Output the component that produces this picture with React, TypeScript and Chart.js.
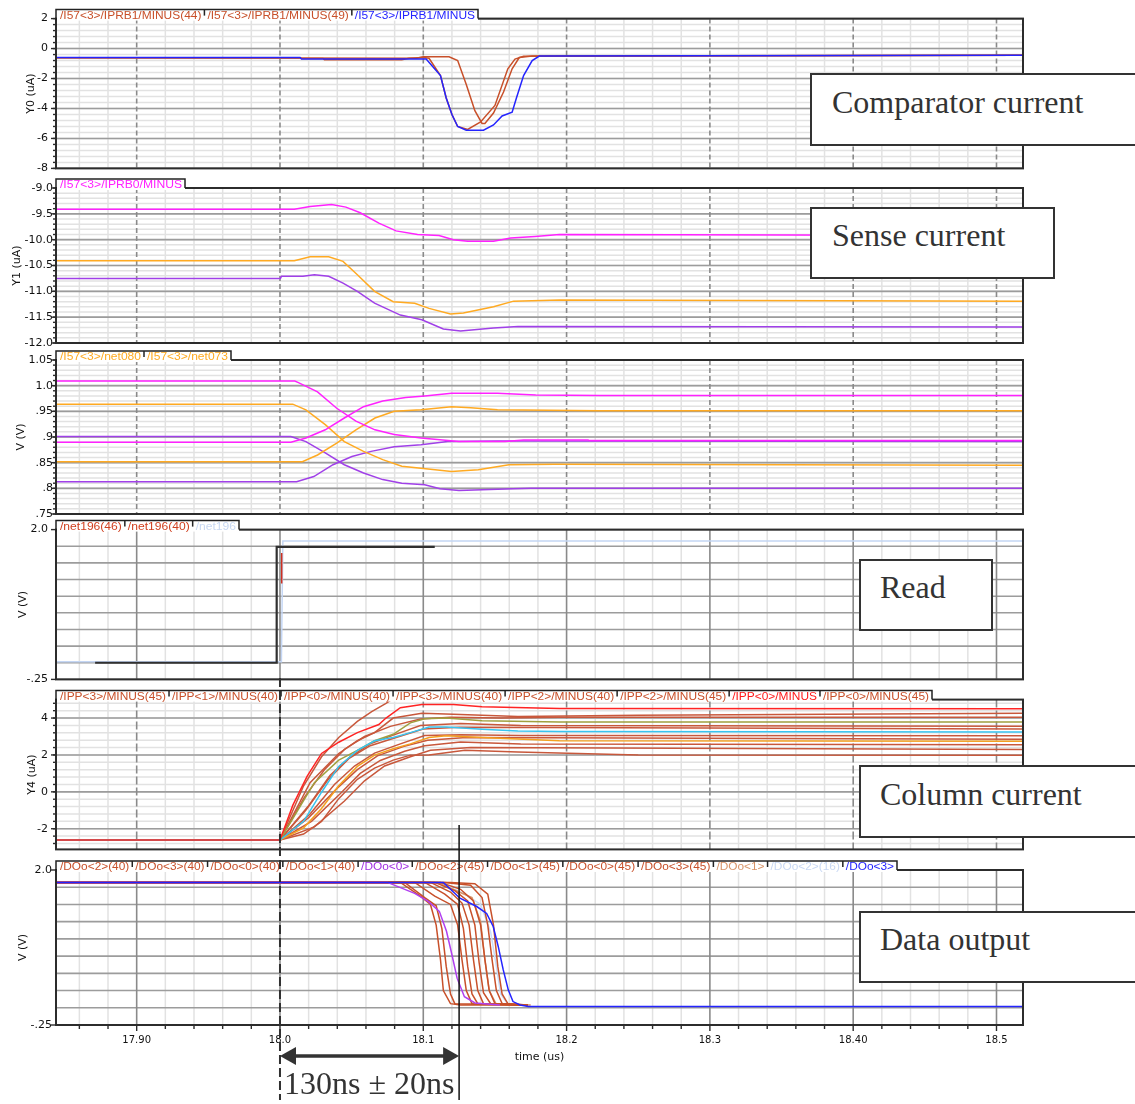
import { useEffect, useRef } from "react";
import { Chart, registerables } from "chart.js";

Chart.register(...registerables);

type Pt = [number, number];

// ---------- shared time axis ----------
const timeMin = 17.8437;
const timeMax = 18.5185;
const timeTicks = [17.9, 18.0, 18.1, 18.2, 18.3, 18.4, 18.5];
const timeTickLabels = ["17.90", "18.0", "18.1", "18.2", "18.3", "18.40", "18.5"];
const markStart = 18.0;
const markEnd = 18.125;

// ---------- panel 1 : comparator current ----------
const p1Ticks = [2, 0, -2, -4, -6, -8];
const p1TickLabels = ["2", "0", "-2", "-4", "-6", "-8"];
const cmpBlue: Pt[] = [[17.84, -0.6], [18.014, -0.6], [18.015, -0.7], [18.102, -0.7], [18.112, -1.8], [18.116, -3.3], [18.12, -4.4], [18.124, -5.2], [18.13, -5.45], [18.142, -5.45], [18.149, -5.1], [18.155, -4.5], [18.162, -4.25], [18.165, -3.3], [18.17, -1.8], [18.176, -0.8], [18.181, -0.5], [18.52, -0.45]];
const cmpRed44: Pt[] = [[17.84, -0.62], [18.014, -0.62], [18.015, -0.66], [18.03, -0.66], [18.031, -0.74], [18.085, -0.75], [18.09, -0.65], [18.1, -0.6], [18.104, -0.65], [18.112, -1.8], [18.116, -3.3], [18.12, -4.4], [18.124, -5.2], [18.131, -5.4], [18.14, -4.9], [18.15, -3.8], [18.159, -1.35], [18.164, -0.7], [18.17, -0.52], [18.52, -0.45]];
const cmpRed49: Pt[] = [[17.84, -0.62], [18.095, -0.65], [18.1, -0.55], [18.118, -0.55], [18.124, -0.8], [18.13, -2.4], [18.136, -4.15], [18.141, -5.0], [18.143, -5.0], [18.149, -4.3], [18.156, -2.9], [18.162, -1.35], [18.167, -0.6], [18.176, -0.5], [18.52, -0.45]];

// ---------- panel 2 : sense current ----------
const p2Ticks = [-9, -9.5, -10, -10.5, -11, -11.5, -12];
const p2TickLabels = ["-9.0", "-9.5", "-10.0", "-10.5", "-11.0", "-11.5", "-12.0"];
const senseMagenta: Pt[] = [[17.84, -9.41], [18.01, -9.41], [18.021, -9.36], [18.036, -9.32], [18.046, -9.37], [18.056, -9.48], [18.069, -9.68], [18.081, -9.83], [18.096, -9.9], [18.111, -9.92], [18.121, -10.0], [18.131, -10.03], [18.149, -10.03], [18.161, -9.97], [18.178, -9.94], [18.195, -9.9], [18.52, -9.92]];
const senseOrange: Pt[] = [[17.84, -10.41], [18.01, -10.41], [18.021, -10.33], [18.034, -10.33], [18.044, -10.42], [18.054, -10.68], [18.066, -11.0], [18.079, -11.2], [18.094, -11.23], [18.104, -11.33], [18.119, -11.44], [18.128, -11.42], [18.149, -11.3], [18.163, -11.19], [18.195, -11.17], [18.52, -11.19]];
const sensePurple: Pt[] = [[17.84, -10.75], [18.0003, -10.75], [18.001, -10.71], [18.016, -10.71], [18.024, -10.68], [18.034, -10.71], [18.044, -10.84], [18.054, -11.0], [18.066, -11.23], [18.084, -11.46], [18.099, -11.55], [18.114, -11.73], [18.126, -11.77], [18.149, -11.71], [18.166, -11.68], [18.52, -11.69]];

// ---------- panel 3 : internal nodes ----------
const p3Ticks = [1.05, 1.0, 0.95, 0.9, 0.85, 0.8, 0.75];
const p3TickLabels = ["1.05", "1.0", ".95", ".9", ".85", ".8", ".75"];
const netMagHigh: Pt[] = [[17.84, 1.009], [18.0103, 1.009], [18.0129, 1.006], [18.0262, 0.988], [18.0396, 0.956], [18.053, 0.931], [18.0663, 0.914], [18.0797, 0.905], [18.0984, 0.898], [18.1249, 0.891], [18.157, 0.891], [18.17, 0.894], [18.215, 0.894], [18.216, 0.893], [18.52, 0.893]];
const netMagLow: Pt[] = [[17.84, 0.89], [18.0076, 0.89], [18.0181, 0.898], [18.0316, 0.914], [18.0449, 0.937], [18.0583, 0.959], [18.0717, 0.97], [18.0877, 0.977], [18.101, 0.98], [18.1197, 0.985], [18.1518, 0.985], [18.1785, 0.982], [18.2233, 0.981], [18.52, 0.981]];
const netOrHigh: Pt[] = [[17.84, 0.964], [18.0089, 0.964], [18.0181, 0.953], [18.0316, 0.924], [18.0449, 0.891], [18.0583, 0.872], [18.0717, 0.856], [18.085, 0.843], [18.0984, 0.839], [18.1197, 0.833], [18.1384, 0.836], [18.1598, 0.846], [18.1919, 0.847], [18.52, 0.845]];
const netOrLow: Pt[] = [[17.84, 0.852], [18.0156, 0.852], [18.0262, 0.865], [18.0396, 0.888], [18.053, 0.914], [18.0663, 0.937], [18.0797, 0.95], [18.0984, 0.953], [18.1197, 0.959], [18.1331, 0.957], [18.1518, 0.953], [18.2233, 0.951], [18.52, 0.951]];
const netPurHigh: Pt[] = [[17.84, 0.901], [18.0076, 0.901], [18.0181, 0.891], [18.0316, 0.869], [18.0449, 0.846], [18.0583, 0.83], [18.0717, 0.817], [18.085, 0.81], [18.101, 0.807], [18.1117, 0.799], [18.1249, 0.796], [18.1625, 0.799], [18.175, 0.8], [18.52, 0.8]];
const netPurLow: Pt[] = [[17.84, 0.813], [18.0116, 0.813], [18.0236, 0.823], [18.037, 0.846], [18.0502, 0.862], [18.0636, 0.872], [18.0797, 0.881], [18.0984, 0.885], [18.1171, 0.891], [18.1518, 0.892], [18.52, 0.891]];

// ---------- panel 4 : read ----------
const p4Ticks = [2.0, -0.25];
const p4TickLabels = ["2.0", "-.25"];
const readBlack: Pt[] = [[17.871, 0.0], [17.9977, 0.0], [17.9977, 1.74], [18.108, 1.74]];
const readLight: Pt[] = [[17.84, 0.015], [18.001, 0.015], [18.002, 1.83], [18.52, 1.83]];
const readRed: Pt[] = [[18.0012, 1.65], [18.0012, 1.19]];

// ---------- panel 5 : column current ----------
const p5Ticks = [4, 2, 0, -2];
const p5TickLabels = ["4", "2", "0", "-2"];
const colRed: Pt[] = [[17.84, -2.61], [18.0, -2.61], [18.009, -0.72], [18.019, 0.85], [18.029, 2.08], [18.041, 2.69], [18.054, 3.21], [18.069, 3.65], [18.074, 4.0], [18.084, 4.56], [18.099, 4.73], [18.121, 4.73], [18.141, 4.61], [18.195, 4.52], [18.52, 4.5]];
const colOlive: Pt[] = [[17.84, -2.61], [18.0, -2.61], [18.024, 0.5], [18.041, 1.72], [18.054, 2.25], [18.066, 2.77], [18.079, 3.12], [18.091, 3.74], [18.101, 3.96], [18.116, 4.0], [18.141, 3.86], [18.195, 3.79], [18.52, 3.79]];
const colCyan: Pt[] = [[17.84, -2.61], [18.0, -2.61], [18.0165, -1.6], [18.029, -0.02], [18.041, 1.38], [18.054, 2.25], [18.066, 2.77], [18.079, 2.95], [18.091, 3.21], [18.104, 3.51], [18.116, 3.51], [18.141, 3.39], [18.166, 3.3], [18.195, 3.27], [18.52, 3.25]];
const colOrange: Pt[] = [[17.84, -2.61], [18.0, -2.61], [18.0165, -1.95], [18.029, -0.9], [18.041, 0.33], [18.054, 1.38], [18.066, 1.99], [18.079, 2.34], [18.091, 2.6], [18.104, 2.95], [18.116, 3.04], [18.141, 2.95], [18.195, 2.77], [18.52, 2.74]];
const colBrownA: Pt[] = [[17.84, -2.61], [18.0, -2.61], [18.0165, 0.33], [18.029, 1.9], [18.041, 2.95], [18.054, 3.82], [18.064, 4.35], [18.074, 4.79], [18.079, 5.05], [18.09, 5.3], [18.52, 5.3]];
const colBrownB: Pt[] = [[17.84, -2.61], [18.0, -2.61], [18.021, 0.5], [18.041, 2.08], [18.054, 2.77], [18.066, 3.21], [18.079, 4.0], [18.099, 4.26], [18.121, 4.2], [18.166, 4.08], [18.25, 4.15], [18.52, 4.26]];
const colBrownC: Pt[] = [[17.84, -2.61], [18.0, -2.61], [18.017, -0.3], [18.031, 1.2], [18.045, 2.3], [18.059, 3.0], [18.077, 3.55], [18.098, 3.95], [18.119, 4.05], [18.154, 4.0], [18.195, 4.05], [18.52, 4.05]];
const colBrownD: Pt[] = [[17.84, -2.61], [18.0, -2.61], [18.0195, -0.8], [18.035, 0.9], [18.049, 1.9], [18.063, 2.6], [18.08, 3.1], [18.098, 3.6], [18.126, 3.7], [18.168, 3.6], [18.52, 3.56]];
const colBrownE: Pt[] = [[17.84, -2.61], [18.0, -2.61], [18.018, -1.0], [18.034, 0.7], [18.048, 1.8], [18.063, 2.5], [18.081, 2.95], [18.1, 3.4], [18.125, 3.5], [18.52, 3.4]];
const colBrownF: Pt[] = [[17.84, -2.61], [18.0, -2.61], [18.021, -1.2], [18.038, 0.4], [18.052, 1.4], [18.066, 2.1], [18.084, 2.6], [18.101, 3.05], [18.126, 3.1], [18.168, 3.05], [18.52, 3.04]];
const colBrownG: Pt[] = [[17.84, -2.61], [18.0, -2.61], [18.02, -1.4], [18.04, 0.2], [18.054, 1.2], [18.068, 1.95], [18.086, 2.45], [18.103, 2.8], [18.13, 2.95], [18.52, 2.85]];
const colBrownH: Pt[] = [[17.84, -2.61], [18.0, -2.61], [18.022, -1.6], [18.042, -0.1], [18.056, 1.0], [18.07, 1.7], [18.087, 2.2], [18.101, 2.5], [18.126, 2.7], [18.168, 2.6], [18.52, 2.55]];
const colBrownI: Pt[] = [[17.84, -2.61], [18.0, -2.61], [18.024, -1.9], [18.045, -0.5], [18.059, 0.6], [18.073, 1.4], [18.091, 1.9], [18.105, 2.25], [18.133, 2.4], [18.52, 2.3]];
const colBrownJ: Pt[] = [[17.84, -2.61], [18.0, -2.61], [18.0165, -2.29], [18.029, -1.6], [18.041, -0.37], [18.054, 0.68], [18.066, 1.29], [18.079, 1.72], [18.091, 1.99], [18.104, 2.0], [18.129, 2.25], [18.166, 2.16], [18.25, 2.0], [18.52, 1.99]];

// ---------- panel 6 : data output ----------
const p6Ticks = [2.0, -0.25];
const p6TickLabels = ["2.0", "-.25"];
const doBlue: Pt[] = [[17.84, 1.82], [18.114, 1.82], [18.1256, 1.59], [18.1373, 1.47], [18.1442, 1.37], [18.1488, 1.18], [18.1523, 0.89], [18.1558, 0.55], [18.1593, 0.26], [18.1626, 0.09], [18.1675, 0.04], [18.1733, 0.02], [18.52, 0.02]];
const doPurple: Pt[] = [[17.84, 1.82], [18.075, 1.82], [18.094, 1.66], [18.1037, 1.54], [18.1112, 1.4], [18.1162, 1.11], [18.12, 0.77], [18.1236, 0.43], [18.1287, 0.16], [18.1361, 0.07], [18.1535, 0.04]];
const doLightBlue: Pt[] = [[17.84, 1.82], [18.112, 1.82], [18.129, 1.65], [18.14, 1.5], [18.147, 1.1], [18.151, 0.6], [18.154, 0.2], [18.159, 0.05], [18.173, 0.04]];
const doTan: Pt[] = [[17.84, 1.82], [18.11, 1.82], [18.125, 1.68], [18.134, 1.6], [18.14, 1.25], [18.143, 0.7], [18.146, 0.25], [18.151, 0.05], [18.175, 0.04]];
const doBrown1: Pt[] = [[17.84, 1.82], [18.084, 1.82], [18.098, 1.62], [18.105, 1.5], [18.109, 1.2], [18.112, 0.7], [18.114, 0.25], [18.119, 0.06], [18.126, 0.04], [18.173, 0.04]];
const doBrown2: Pt[] = [[17.84, 1.82], [18.087, 1.82], [18.101, 1.6], [18.109, 1.48], [18.113, 1.15], [18.116, 0.6], [18.119, 0.2], [18.122, 0.06], [18.173, 0.04]];
const doBrown3: Pt[] = [[17.84, 1.82], [18.094, 1.82], [18.108, 1.62], [18.119, 1.5], [18.124, 1.2], [18.127, 0.7], [18.13, 0.25], [18.134, 0.06], [18.173, 0.04]];
const doBrown4: Pt[] = [[17.84, 1.82], [18.101, 1.82], [18.115, 1.65], [18.124, 1.5], [18.128, 1.15], [18.131, 0.6], [18.134, 0.2], [18.138, 0.06], [18.173, 0.04]];
const doBrown5: Pt[] = [[17.84, 1.82], [18.105, 1.82], [18.119, 1.68], [18.127, 1.52], [18.132, 1.2], [18.135, 0.7], [18.138, 0.25], [18.142, 0.06], [18.173, 0.04]];
const doBrown6: Pt[] = [[17.84, 1.82], [18.108, 1.82], [18.122, 1.7], [18.131, 1.55], [18.136, 1.2], [18.139, 0.65], [18.142, 0.22], [18.147, 0.06], [18.173, 0.04]];
const doBrown7: Pt[] = [[17.84, 1.82], [18.112, 1.82], [18.126, 1.72], [18.135, 1.55], [18.14, 1.2], [18.143, 0.7], [18.146, 0.25], [18.15, 0.06], [18.173, 0.04]];
const doBrown8: Pt[] = [[17.84, 1.82], [18.115, 1.82], [18.133, 1.78], [18.141, 1.6], [18.145, 1.2], [18.148, 0.7], [18.151, 0.25], [18.155, 0.06], [18.173, 0.04]];
const doBrown9: Pt[] = [[17.84, 1.82], [18.119, 1.82], [18.136, 1.8], [18.145, 1.65], [18.149, 1.2], [18.152, 0.6], [18.155, 0.2], [18.159, 0.06], [18.173, 0.04]];

// ---------- colours ----------
const cBrown = "#c8502a";
const cBlue = "#2424ff";
const cMagenta = "#ff22ff";
const cOrange = "#ffaa22";
const cPurple = "#a040e8";

interface Series { color: string; width?: number; pts: Pt[] }
interface TabItem { text: string; color: string }
interface PanelCfg {
  key: string;
  canvasTop: number;
  canvasH: number;
  padTop: number;
  padBottom: number;
  xAxisH: number;
  bottom: boolean;
  yMin: number;
  yMax: number;
  ticks: number[];
  tickLabels: string[];
  gridStep: number;
  gridAnchor: number;
  minorStep: number | null;
  vDash: number[];
  yTitle: string;
  yTitleX: number;
  tickPad: number;
  tab: TabItem[];
  tabWidth: number;
  series: Series[];
}

const PLOT_LEFT = 56;
const PLOT_RIGHT = 1023;
const PAGE_W = 1135;

const panels: PanelCfg[] = [
  {
    key: "p1", canvasTop: 4, canvasH: 179, padTop: 14, padBottom: 10, xAxisH: 0, bottom: false,
    yMin: -8, yMax: 2, ticks: p1Ticks, tickLabels: p1TickLabels, gridStep: 2, gridAnchor: 0, minorStep: 0.4,
    vDash: [5, 3], yTitle: "Y0 (uA)", yTitleX: 31, tickPad: 8,
    tab: [
      { text: "/I57<3>/IPRB1/MINUS(44)", color: cBrown },
      { text: "/I57<3>/IPRB1/MINUS(49)", color: cBrown },
      { text: "/I57<3>/IPRB1/MINUS", color: cBlue },
    ],
    tabWidth: 422,
    series: [
      { color: cBlue, pts: cmpBlue },
      { color: cBrown, pts: cmpRed44 },
      { color: cBrown, pts: cmpRed49 },
    ],
  },
  {
    key: "p2", canvasTop: 174, canvasH: 179, padTop: 14, padBottom: 10, xAxisH: 0, bottom: false,
    yMin: -12, yMax: -9, ticks: p2Ticks, tickLabels: p2TickLabels, gridStep: 0.5, gridAnchor: -12, minorStep: 0.1,
    vDash: [5, 3], yTitle: "Y1 (uA)", yTitleX: 17, tickPad: 3,
    tab: [{ text: "/I57<3>/IPRB0/MINUS", color: cMagenta }],
    tabWidth: 129,
    series: [
      { color: cMagenta, pts: senseMagenta },
      { color: cOrange, pts: senseOrange },
      { color: cPurple, pts: sensePurple },
    ],
  },
  {
    key: "p3", canvasTop: 346, canvasH: 178, padTop: 14, padBottom: 10, xAxisH: 0, bottom: false,
    yMin: 0.75, yMax: 1.05, ticks: p3Ticks, tickLabels: p3TickLabels, gridStep: 0.05, gridAnchor: 0.75, minorStep: 0.01,
    vDash: [5, 3], yTitle: "V (V)", yTitleX: 21, tickPad: 3,
    tab: [
      { text: "/I57<3>/net080", color: cOrange },
      { text: "/I57<3>/net073", color: cOrange },
    ],
    tabWidth: 175,
    series: [
      { color: cMagenta, pts: netMagHigh },
      { color: cMagenta, pts: netMagLow },
      { color: cOrange, pts: netOrHigh },
      { color: cOrange, pts: netOrLow },
      { color: cPurple, pts: netPurHigh },
      { color: cPurple, pts: netPurLow },
    ],
  },
  {
    key: "p4", canvasTop: 515, canvasH: 179, padTop: 14, padBottom: 10, xAxisH: 0, bottom: false,
    yMin: -0.25, yMax: 2.0, ticks: p4Ticks, tickLabels: p4TickLabels, gridStep: 0.25, gridAnchor: -0.25, minorStep: null,
    vDash: [], yTitle: "V (V)", yTitleX: 23, tickPad: 8,
    tab: [
      { text: "/net196(46)", color: "#d04020" },
      { text: "/net196(40)", color: "#d04020" },
      { text: "/net196", color: "#c8d8f2" },
    ],
    tabWidth: 183,
    series: [
      { color: "#d03020", pts: readRed },
      { color: "#303030", width: 2.2, pts: readBlack },
      { color: "#c4d6f4", pts: readLight },
    ],
  },
  {
    key: "p5", canvasTop: 685, canvasH: 179, padTop: 14, padBottom: 10, xAxisH: 0, bottom: false,
    yMin: -3.12, yMax: 5.0, ticks: p5Ticks, tickLabels: p5TickLabels, gridStep: 2, gridAnchor: 0, minorStep: 0.4,
    vDash: [8, 3], yTitle: "Y4 (uA)", yTitleX: 32, tickPad: 8,
    tab: [
      { text: "/IPP<3>/MINUS(45)", color: cBrown },
      { text: "/IPP<1>/MINUS(40)", color: cBrown },
      { text: "/IPP<0>/MINUS(40)", color: cBrown },
      { text: "/IPP<3>/MINUS(40)", color: cBrown },
      { text: "/IPP<2>/MINUS(40)", color: cBrown },
      { text: "/IPP<2>/MINUS(45)", color: cBrown },
      { text: "/IPP<0>/MINUS", color: "#ff1a1a" },
      { text: "/IPP<0>/MINUS(45)", color: cBrown },
    ],
    tabWidth: 876,
    series: [
      { color: "#ff2424", pts: colRed },
      { color: "#38c4f0", pts: colCyan },
      { color: "#a0a040", pts: colOlive },
      { color: "#f4a020", pts: colOrange },
      { color: "#c8583c", pts: colBrownA },
      { color: "#c8583c", pts: colBrownB },
      { color: "#c8583c", pts: colBrownC },
      { color: "#c8583c", pts: colBrownD },
      { color: "#c8583c", pts: colBrownE },
      { color: "#c8583c", pts: colBrownF },
      { color: "#c8583c", pts: colBrownG },
      { color: "#c8583c", pts: colBrownH },
      { color: "#c8583c", pts: colBrownI },
      { color: "#c8583c", pts: colBrownJ },
    ],
  },
  {
    key: "p6", canvasTop: 676, canvasH: 428, padTop: 194, padBottom: 0, xAxisH: 79, bottom: true,
    yMin: -0.25, yMax: 2.0, ticks: p6Ticks, tickLabels: p6TickLabels, gridStep: 0.25, gridAnchor: -0.25, minorStep: null,
    vDash: [], yTitle: "V (V)", yTitleX: 23, tickPad: 4,
    tab: [
      { text: "/DOo<2>(40)", color: cBrown },
      { text: "/DOo<3>(40)", color: cBrown },
      { text: "/DOo<0>(40)", color: cBrown },
      { text: "/DOo<1>(40)", color: cBrown },
      { text: "/DOo<0>", color: "#a030e0" },
      { text: "/DOo<2>(45)", color: cBrown },
      { text: "/DOo<1>(45)", color: cBrown },
      { text: "/DOo<0>(45)", color: cBrown },
      { text: "/DOo<3>(45)", color: cBrown },
      { text: "/DOo<1>", color: "#d89468" },
      { text: "/DOo<2>(16)", color: "#c8d8f4" },
      { text: "/DOo<3>", color: cBlue },
    ],
    tabWidth: 841,
    series: [
      { color: cBlue, pts: doBlue },
      { color: "#b040f0", pts: doPurple },
      { color: cBrown, pts: doBrown1 },
      { color: cBrown, pts: doBrown2 },
      { color: cBrown, pts: doBrown3 },
      { color: cBrown, pts: doBrown4 },
      { color: cBrown, pts: doBrown5 },
      { color: cBrown, pts: doBrown6 },
      { color: cBrown, pts: doBrown7 },
      { color: cBrown, pts: doBrown8 },
      { color: cBrown, pts: doBrown9 },
      { color: "#d89468", pts: doTan },
      { color: "#c8dcf8", pts: doLightBlue },
    ],
  },
];

function makeDeco(cfg: PanelCfg) {
  return {
    id: "deco_" + cfg.key,
    beforeDatasetsDraw(chart: any) {
      const { ctx, chartArea: a, scales } = chart;
      const xs = scales.x;
      const ys = scales.y;
      ctx.save();
      ctx.beginPath();
      ctx.rect(a.left, a.top, a.right - a.left, a.bottom - a.top);
      ctx.clip();
      const kx0 = Math.ceil(timeMin / 0.02);
      const kx1 = Math.floor(timeMax / 0.02);
      // vertical minor
      ctx.strokeStyle = "#e2e2e2";
      ctx.lineWidth = 1.5;
      for (let k = kx0; k <= kx1; k++) {
        if (k % 5 === 0) continue;
        const px = xs.getPixelForValue(k * 0.02);
        ctx.beginPath();
        ctx.moveTo(px, a.top);
        ctx.lineTo(px, a.bottom);
        ctx.stroke();
      }
      // horizontal minor
      if (cfg.minorStep) {
        const st = cfg.minorStep;
        const k0 = Math.ceil((cfg.yMin - cfg.gridAnchor) / st - 1e-6);
        const k1 = Math.floor((cfg.yMax - cfg.gridAnchor) / st + 1e-6);
        for (let k = k0; k <= k1; k++) {
          const py = ys.getPixelForValue(cfg.gridAnchor + k * st);
          ctx.beginPath();
          ctx.moveTo(a.left, py);
          ctx.lineTo(a.right, py);
          ctx.stroke();
        }
      }
      // horizontal major
      ctx.strokeStyle = "#9c9c9c";
      ctx.lineWidth = 1.6;
      {
        const st = cfg.gridStep;
        const k0 = Math.ceil((cfg.yMin - cfg.gridAnchor) / st - 1e-6);
        const k1 = Math.floor((cfg.yMax - cfg.gridAnchor) / st + 1e-6);
        for (let k = k0; k <= k1; k++) {
          const py = ys.getPixelForValue(cfg.gridAnchor + k * st);
          ctx.beginPath();
          ctx.moveTo(a.left, py);
          ctx.lineTo(a.right, py);
          ctx.stroke();
        }
      }
      // vertical major
      ctx.strokeStyle = "#8a8a8a";
      ctx.setLineDash(cfg.vDash);
      for (let k = kx0; k <= kx1; k++) {
        if (k % 5 !== 0) continue;
        const px = xs.getPixelForValue(k * 0.02);
        ctx.beginPath();
        ctx.moveTo(px, a.top);
        ctx.lineTo(px, a.bottom);
        ctx.stroke();
      }
      ctx.restore();
    },
    afterDraw(chart: any) {
      const { ctx, chartArea: a, scales } = chart;
      const xs = scales.x;
      const ys = scales.y;
      ctx.save();
      // frame
      ctx.strokeStyle = "#2c2c2c";
      ctx.lineWidth = 2;
      ctx.strokeRect(a.left, a.top, a.right - a.left, a.bottom - a.top);
      // y tick marks
      ctx.lineWidth = 1.4;
      ctx.strokeStyle = "#2c2c2c";
      if (cfg.minorStep) {
        const st = cfg.minorStep;
        const k0 = Math.ceil((cfg.yMin - cfg.gridAnchor) / st - 1e-6);
        const k1 = Math.floor((cfg.yMax - cfg.gridAnchor) / st + 1e-6);
        for (let k = k0; k <= k1; k++) {
          const py = ys.getPixelForValue(cfg.gridAnchor + k * st);
          ctx.beginPath();
          ctx.moveTo(a.left - 3, py);
          ctx.lineTo(a.left, py);
          ctx.stroke();
        }
      }
      cfg.ticks.forEach((v) => {
        const py = ys.getPixelForValue(v);
        ctx.beginPath();
        ctx.moveTo(a.left - 5, py);
        ctx.lineTo(a.left, py);
        ctx.stroke();
      });
      // bottom axis tick marks
      if (cfg.bottom) {
        const kx0 = Math.ceil(timeMin / 0.02);
        const kx1 = Math.floor(timeMax / 0.02);
        for (let k = kx0; k <= kx1; k++) {
          const px = xs.getPixelForValue(k * 0.02);
          ctx.beginPath();
          ctx.moveTo(px, a.bottom);
          ctx.lineTo(px, a.bottom + (k % 5 === 0 ? 6 : 4));
          ctx.stroke();
        }
        ctx.fillStyle = "#111";
        ctx.font = '11px "DejaVu Sans"';
        ctx.textAlign = "center";
        ctx.textBaseline = "middle";
        ctx.fillText("time (us)", (a.left + a.right) / 2, a.bottom + 32);
      }
      // tab legend
      const tl = a.left;
      const tr = a.left + cfg.tabWidth;
      const tt = a.top - 9;
      ctx.fillStyle = "#ffffff";
      ctx.fillRect(tl + 1, tt, tr - tl - 1, a.top + 2 - tt);
      ctx.strokeStyle = "#222";
      ctx.lineWidth = 1.5;
      ctx.beginPath();
      ctx.moveTo(tl, a.top + 2);
      ctx.lineTo(tl, tt);
      ctx.lineTo(tr, tt);
      ctx.lineTo(tr, a.top);
      ctx.stroke();
      ctx.font = '10px "Liberation Sans"';
      ctx.textBaseline = "middle";
      ctx.textAlign = "left";
      const widths = cfg.tab.map((it) => ctx.measureText(it.text).width);
      const gap = 6;
      const total = widths.reduce((s, w) => s + w, 0);
      const avail = tr - 3 - (tl + 4) - gap * (cfg.tab.length - 1);
      const sx = avail / total;
      let cx = tl + 4;
      const ty = a.top - 2.5;
      cfg.tab.forEach((it, i) => {
        if (i > 0) {
          const sxp = cx - gap / 2;
          ctx.beginPath();
          ctx.moveTo(sxp, tt);
          ctx.lineTo(sxp, tt + 6);
          ctx.stroke();
        }
        ctx.save();
        ctx.translate(cx, ty);
        ctx.scale(sx, 1);
        ctx.fillStyle = it.color;
        ctx.fillText(it.text, 0, 0);
        ctx.restore();
        cx += widths[i] * sx + gap;
      });
      // y title
      ctx.save();
      ctx.translate(cfg.yTitleX, (a.top + a.bottom) / 2);
      ctx.rotate(-Math.PI / 2);
      ctx.font = '11px "DejaVu Sans"';
      ctx.fillStyle = "#111";
      ctx.textAlign = "center";
      ctx.textBaseline = "middle";
      ctx.fillText(cfg.yTitle, 0, 0);
      ctx.restore();
      // timing annotations (bottom panel)
      if (cfg.bottom) {
        const x0 = xs.getPixelForValue(markStart);
        const x1 = xs.getPixelForValue(markEnd);
        ctx.strokeStyle = "#303030";
        ctx.lineWidth = 2;
        ctx.setLineDash([9, 4]);
        ctx.beginPath();
        ctx.moveTo(x0, a.top - 192);
        ctx.lineTo(x0, a.bottom + 75);
        ctx.stroke();
        ctx.setLineDash([]);
        ctx.strokeStyle = "#111";
        ctx.lineWidth = 1.5;
        ctx.beginPath();
        ctx.moveTo(x1, a.top - 45);
        ctx.lineTo(x1, a.bottom + 75);
        ctx.stroke();
        const ay = a.bottom + 31;
        ctx.strokeStyle = "#333";
        ctx.fillStyle = "#333";
        ctx.lineWidth = 3.5;
        ctx.beginPath();
        ctx.moveTo(x0 + 10, ay);
        ctx.lineTo(x1 - 10, ay);
        ctx.stroke();
        ctx.beginPath();
        ctx.moveTo(x0, ay);
        ctx.lineTo(x0 + 16, ay - 9);
        ctx.lineTo(x0 + 16, ay + 9);
        ctx.closePath();
        ctx.fill();
        ctx.beginPath();
        ctx.moveTo(x1, ay);
        ctx.lineTo(x1 - 16, ay - 9);
        ctx.lineTo(x1 - 16, ay + 9);
        ctx.closePath();
        ctx.fill();
      }
      ctx.restore();
    },
  };
}

function PanelChart({ cfg }: { cfg: PanelCfg }) {
  const ref = useRef<HTMLCanvasElement>(null);
  useEffect(() => {
    const canvas = ref.current;
    if (!canvas) return;
    const chart = new Chart(canvas, {
      type: "line",
      data: {
        datasets: cfg.series.map((s) => ({
          data: s.pts.map(([x, y]) => ({ x, y })),
          borderColor: s.color,
          borderWidth: s.width ?? 1.5,
          pointRadius: 0,
          tension: 0,
          fill: false,
        })),
      },
      options: {
        responsive: false,
        animation: false,
        devicePixelRatio: 1,
        events: [],
        layout: { padding: { left: 0, right: PAGE_W - PLOT_RIGHT, top: cfg.padTop, bottom: cfg.padBottom } },
        plugins: { legend: { display: false }, tooltip: { enabled: false }, title: { display: false } },
        scales: {
          x: {
            type: "linear",
            min: timeMin,
            max: timeMax,
            display: cfg.bottom,
            afterFit: (s: any) => {
              s.height = cfg.xAxisH;
            },
            afterBuildTicks: (s: any) => {
              s.ticks = timeTicks.map((v) => ({ value: v }));
            },
            grid: { display: false, drawTicks: false },
            border: { display: false },
            ticks: {
              autoSkip: false,
              maxRotation: 0,
              padding: 9,
              color: "#111",
              font: { family: "DejaVu Sans", size: 10 },
              callback: (_v: any, i: number) => timeTickLabels[i],
            },
          },
          y: {
            type: "linear",
            min: cfg.yMin,
            max: cfg.yMax,
            afterFit: (s: any) => {
              s.width = PLOT_LEFT;
            },
            afterBuildTicks: (s: any) => {
              s.ticks = cfg.ticks.map((v) => ({ value: v }));
            },
            grid: { display: false, drawTicks: false },
            border: { display: false },
            ticks: {
              autoSkip: false,
              padding: cfg.tickPad,
              color: "#111",
              font: { family: "DejaVu Sans", size: 11 },
              callback: (_v: any, i: number) => cfg.tickLabels[i],
            },
          },
        },
      } as any,
      plugins: [makeDeco(cfg)],
    });
    return () => chart.destroy();
  }, [cfg]);
  return (
    <canvas
      ref={ref}
      width={PAGE_W}
      height={cfg.canvasH}
      style={{ position: "absolute", left: 0, top: cfg.canvasTop, width: PAGE_W, height: cfg.canvasH }}
    />
  );
}

const notes = [
  { text: "Comparator current", left: 810, top: 73, width: 330, height: 73, padL: 20, padT: 9 },
  { text: "Sense current", left: 810, top: 207, width: 245, height: 72, padL: 20, padT: 8 },
  { text: "Read", left: 859, top: 559, width: 134, height: 72, padL: 19, padT: 8 },
  { text: "Column current", left: 859, top: 765, width: 285, height: 73, padL: 19, padT: 9 },
  { text: "Data output", left: 859, top: 911, width: 285, height: 72, padL: 19, padT: 8 },
];

export default function App() {
  return (
    <div
      style={{
        position: "absolute",
        left: 0,
        top: 0,
        width: PAGE_W,
        height: 1104,
        background: "#fff",
        overflow: "hidden",
      }}
    >
      {panels.map((p) => (
        <PanelChart key={p.key} cfg={p} />
      ))}
      {notes.map((n) => (
        <div
          key={n.text}
          style={{
            position: "absolute",
            left: n.left,
            top: n.top,
            width: n.width,
            height: n.height,
            boxSizing: "border-box",
            border: "2px solid #333",
            background: "#fff",
            paddingLeft: n.padL,
            paddingTop: n.padT,
            font: '32px "Liberation Serif"',
            lineHeight: "36px",
            color: "#333",
            whiteSpace: "nowrap",
            zIndex: 5,
          }}
        >
          {n.text}
        </div>
      ))}
      <div
        style={{
          position: "absolute",
          left: 284,
          top: 1065,
          font: '32px "Liberation Serif"',
          lineHeight: "36px",
          color: "#333",
          whiteSpace: "nowrap",
          zIndex: 5,
        }}
      >
        130ns ± 20ns
      </div>
    </div>
  );
}
